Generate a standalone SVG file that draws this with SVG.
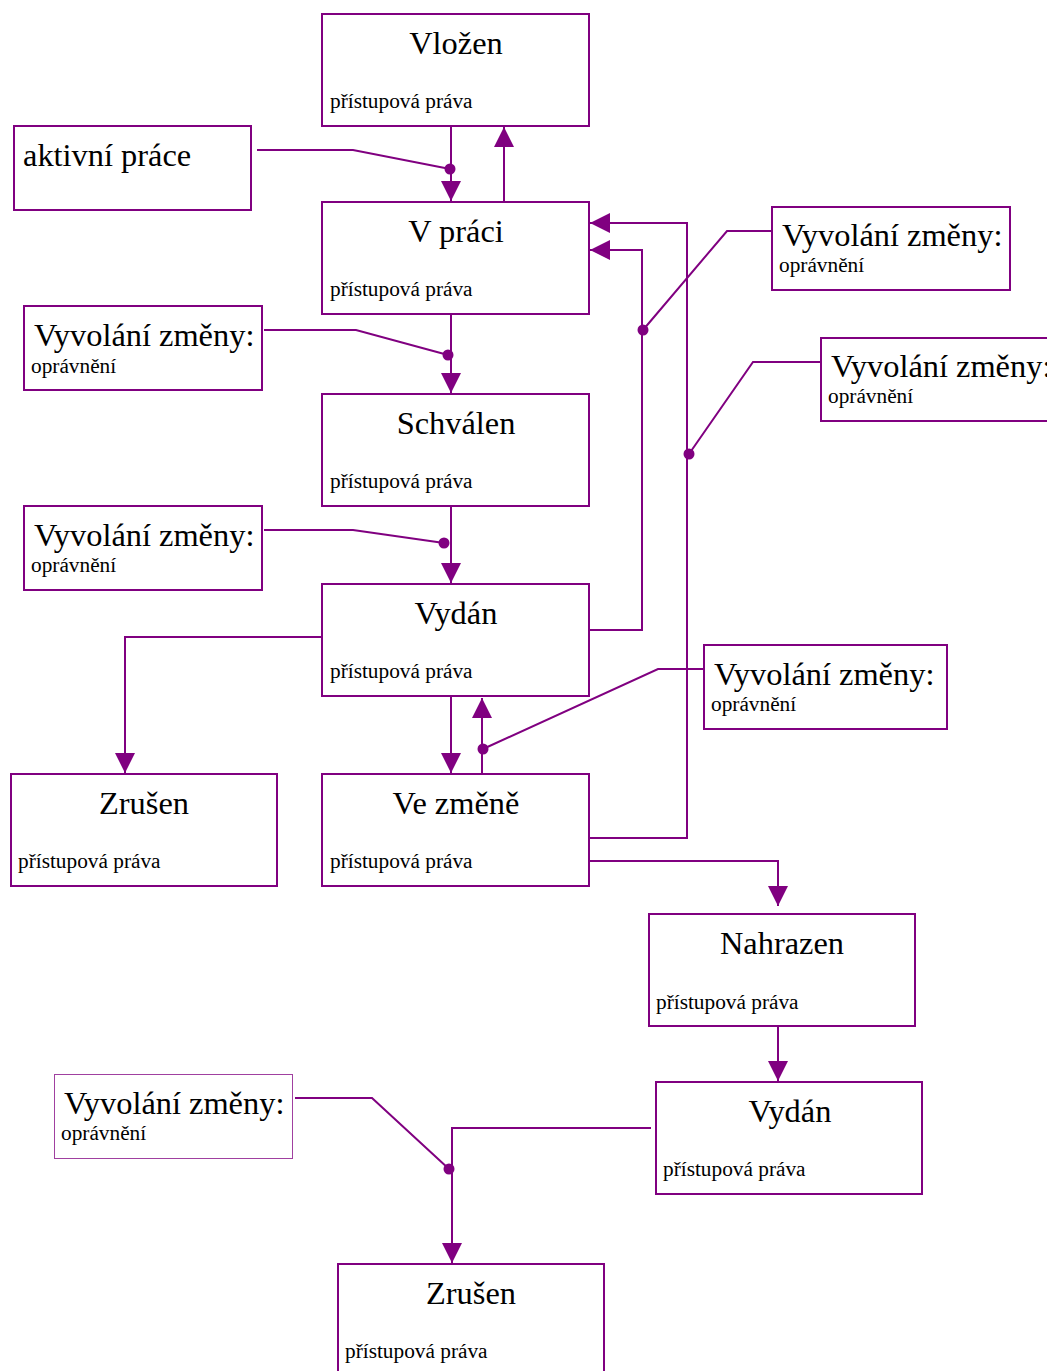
<svg xmlns="http://www.w3.org/2000/svg" width="1047" height="1371" viewBox="0 0 1047 1371">
<style>
.box{fill:#fff;stroke:#800080;stroke-width:2}
.box.thin{stroke:#a040a0;stroke-width:1}
text{font-family:'Liberation Serif','Times New Roman',serif;fill:#000}
.ttl{font-size:32.4px;text-anchor:middle}
.lbl{font-size:32.4px}
.sub{font-size:21.3px}
.c{fill:none;stroke:#800080;stroke-width:2}
.dot{fill:#800080}
</style>
<defs>
<marker id="ah" viewBox="0 0 20 20" refX="20" refY="10" markerWidth="20" markerHeight="20" markerUnits="userSpaceOnUse" orient="auto">
<path d="M0,0 L20,10 L0,20 z" fill="#800080"/>
</marker>
</defs>
<rect width="1047" height="1371" fill="#fff"/>
<g id="connectors">
<path class="c" marker-end="url(#ah)" d="M451,126 V201"/>
<path class="c" marker-end="url(#ah)" d="M504,202 V127"/>
<path class="c" marker-end="url(#ah)" d="M451,314 V393"/>
<path class="c" marker-end="url(#ah)" d="M451,506 V583"/>
<path class="c" marker-end="url(#ah)" d="M589,630 H642 V250 H590"/>
<path class="c" marker-end="url(#ah)" d="M589,838 H687 V223 H590"/>
<path class="c" marker-end="url(#ah)" d="M322,637 H125 V773"/>
<path class="c" marker-end="url(#ah)" d="M451,697 V773"/>
<path class="c" marker-end="url(#ah)" d="M482,774 V698"/>
<path class="c" marker-end="url(#ah)" d="M589,861 H778 V906"/>
<path class="c" marker-end="url(#ah)" d="M778,1027 V1081"/>
<path class="c" marker-end="url(#ah)" d="M651,1128 H452 V1263"/>
<path class="c" d="M257,150 H353 L450,169"/>
<path class="c" d="M264,330 H356 L448,355"/>
<path class="c" d="M264,530 H353 L444,543"/>
<path class="c" d="M772,231 H727 L643,330"/>
<path class="c" d="M820,362 H753 L689,454"/>
<path class="c" d="M704,669 H658 L483,749"/>
<path class="c" d="M295,1098 H372 L449,1169"/>
<circle class="dot" cx="450" cy="169" r="5.5"/>
<circle class="dot" cx="448" cy="355" r="5.5"/>
<circle class="dot" cx="444" cy="543" r="5.5"/>
<circle class="dot" cx="643" cy="330" r="5.5"/>
<circle class="dot" cx="689" cy="454" r="5.5"/>
<circle class="dot" cx="483" cy="749" r="5.5"/>
<circle class="dot" cx="449" cy="1169" r="5.5"/>
</g>
<g id="vlozen"><rect class="box" x="322" y="14" width="267" height="112"/><text class="ttl" x="456" y="54">Vložen</text><text class="sub" x="330" y="108">přístupová práva</text></g>
<g id="aktivni-prace"><rect class="box" x="14" y="126" width="237" height="84"/><text class="lbl" x="23" y="166">aktivní práce</text></g>
<g id="v-praci"><rect class="box" x="322" y="202" width="267" height="112"/><text class="ttl" x="456" y="242">V práci</text><text class="sub" x="330" y="296">přístupová práva</text></g>
<g id="vyvolani-1"><rect class="box" x="24" y="306" width="238" height="84"/><text class="lbl" x="34" y="346">Vyvolání změny:</text><text class="sub" x="31" y="373">oprávnění</text></g>
<g id="schvalen"><rect class="box" x="322" y="394" width="267" height="112"/><text class="ttl" x="456" y="434">Schválen</text><text class="sub" x="330" y="488">přístupová práva</text></g>
<g id="vyvolani-2"><rect class="box" x="24" y="506" width="238" height="84"/><text class="lbl" x="34" y="546">Vyvolání změny:</text><text class="sub" x="31" y="572">oprávnění</text></g>
<g id="vydan"><rect class="box" x="322" y="584" width="267" height="112"/><text class="ttl" x="456" y="624">Vydán</text><text class="sub" x="330" y="678">přístupová práva</text></g>
<g id="zrusen"><rect class="box" x="11" y="774" width="266" height="112"/><text class="ttl" x="144" y="814">Zrušen</text><text class="sub" x="18" y="868">přístupová práva</text></g>
<g id="ve-zmene"><rect class="box" x="322" y="774" width="267" height="112"/><text class="ttl" x="456" y="814">Ve změně</text><text class="sub" x="330" y="868">přístupová práva</text></g>
<g id="vyvolani-3"><rect class="box" x="772" y="207" width="238" height="83"/><text class="lbl" x="782" y="246">Vyvolání změny:</text><text class="sub" x="779" y="272">oprávnění</text></g>
<g id="vyvolani-4"><rect class="box" x="821" y="338" width="240" height="83"/><text class="lbl" x="831" y="377">Vyvolání změny:</text><text class="sub" x="828" y="403">oprávnění</text></g>
<g id="vyvolani-5"><rect class="box" x="704" y="645" width="243" height="84"/><text class="lbl" x="714" y="685">Vyvolání změny:</text><text class="sub" x="711" y="711">oprávnění</text></g>
<g id="nahrazen"><rect class="box" x="649" y="914" width="266" height="112"/><text class="ttl" x="782" y="954">Nahrazen</text><text class="sub" x="656" y="1009">přístupová práva</text></g>
<g id="vydan-2"><rect class="box" x="656" y="1082" width="266" height="112"/><text class="ttl" x="790" y="1122">Vydán</text><text class="sub" x="663" y="1176">přístupová práva</text></g>
<g id="vyvolani-6"><rect class="box thin" x="54.5" y="1074.5" width="238" height="84"/><text class="lbl" x="64" y="1114">Vyvolání změny:</text><text class="sub" x="61" y="1140">oprávnění</text></g>
<g id="zrusen-2"><rect class="box" x="338" y="1264" width="266" height="120"/><text class="ttl" x="471" y="1304">Zrušen</text><text class="sub" x="345" y="1358">přístupová práva</text></g>
</svg>
